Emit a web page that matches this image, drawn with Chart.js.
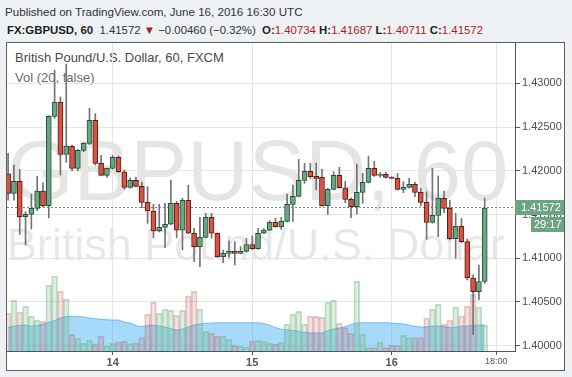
<!DOCTYPE html>
<html>
<head>
<meta charset="utf-8">
<script src="https://cdn.jsdelivr.net/npm/chart.js@4.4.0/dist/chart.umd.min.js"></script>
<style>
  body { margin: 0; background: #eff2f5; font-family: "Liberation Sans", Arial, sans-serif; }
  #wrap { position: relative; width: 572px; height: 377px; overflow: hidden; }
  #frame { position: absolute; left: 6px; top: 42px; width: 559px; height: 329px; box-sizing: border-box;
           border: 1px solid #5d5d5d; background: #fff; }
  .wm { position: absolute; white-space: nowrap; line-height: 1; color: rgba(0, 0, 0, 0.1); }
  #wm1 { left: 7.5px; top: 128px; font-size: 85px; }
  #wm2 { left: 6.7px; top: 222px; font-size: 45px; }
  .txt { position: absolute; white-space: nowrap; }
  #pub { left: 5px; top: 4.7px; font-size: 11.6px; line-height: 14px; color: #333; }
  #quote { left: 7px; top: 23px; font-size: 11.4px; line-height: 14px; color: #333; }
  #quote b { color: #222; }
  #quote .dn { color: #b31b1b; }
  #title { left: 15px; top: 50px; font-size: 13px; line-height: 15px; color: #4a4a4a; }
  #volname { left: 15px; top: 70px; font-size: 13px; line-height: 15px; color: #6a6a6a; }
  #c { position: absolute; left: 0; top: 0; }
</style>
</head>
<body>
<div id="wrap">
  <div class="txt" id="pub">Published on TradingView.com, June 16, 2016 16:30 UTC</div>
  <div class="txt" id="quote"><b>FX:GBPUSD, 60</b>&nbsp; 1.41572 <span class="dn">▼</span> −0.00460 (−0.32%)&nbsp; <b>O:</b><span class="dn">1.40734</span> <b>H:</b><span class="dn">1.41687</span> <b>L:</b><span class="dn">1.40711</span> <b>C:</b><span class="dn">1.41572</span></div>
  <div id="frame"></div>
  <div class="wm" id="wm1">GBPUSD, 60</div>
  <div class="wm" id="wm2">British Pound/U.S. Dollar</div>
  <div class="txt" id="title">British Pound/U.S. Dollar, 60, FXCM</div>
  <div class="txt" id="volname">Vol (20, false)</div>
  <canvas id="c" width="572" height="377"></canvas>
</div>
<script>
// hourly candles, first one is 13 Jun 06:00; x is hours counted from 14 Jun 00:00
var firstHour = -18;

var opens = [1.41966, 1.41742, 1.41879, 1.41474, 1.41502, 1.41570, 1.41768, 1.41600, 1.42622, 1.42785,
  1.42188, 1.42283, 1.42028, 1.42233, 1.42314, 1.42576, 1.42085, 1.41948, 1.42028, 1.42154,
  1.41989, 1.41810, 1.41890, 1.41822, 1.41639, 1.41540, 1.41311, 1.41353, 1.41388, 1.41628,
  1.41322, 1.41662, 1.41285, 1.41132, 1.41239, 1.41468, 1.41285, 1.41017, 1.41056, 1.41079,
  1.41056, 1.41079, 1.41155, 1.41109, 1.41285, 1.41322, 1.41410, 1.41360, 1.41422, 1.41616,
  1.41708, 1.41890, 1.41993, 1.41936, 1.41925, 1.41600, 1.41788, 1.41948, 1.41806, 1.41673,
  1.41589, 1.41753, 1.41868, 1.42028, 1.41948, 1.41959, 1.41925, 1.41913, 1.41788, 1.41810,
  1.41845, 1.41753, 1.41639, 1.41410, 1.41490, 1.41685, 1.41570, 1.41223, 1.41365, 1.41189,
  1.40774, 1.40617, 1.40734];
var highs = [1.42199, 1.42065, 1.42016, 1.41532, 1.41734, 1.41940, 1.41863, 1.42630, 1.43150, 1.42843,
  1.43220, 1.42294, 1.42245, 1.42320, 1.42713, 1.42652, 1.42176, 1.42030, 1.42176, 1.42170,
  1.42010, 1.41917, 1.41928, 1.41870, 1.41817, 1.41616, 1.41616, 1.41628, 1.41894, 1.41650,
  1.41685, 1.41837, 1.41342, 1.41468, 1.41513, 1.41513, 1.41290, 1.41094, 1.41200, 1.41189,
  1.41132, 1.41228, 1.41254, 1.41342, 1.41340, 1.41430, 1.41456, 1.41468, 1.41734, 1.41837,
  1.42131, 1.42085, 1.42085, 1.42088, 1.42016, 1.41800, 1.41989, 1.42039, 1.41879, 1.41690,
  1.42077, 1.41971, 1.42168, 1.42108, 1.41982, 1.41982, 1.41935, 1.41971, 1.41875, 1.41913,
  1.41870, 1.41800, 1.41760, 1.42028, 1.41940, 1.41768, 1.41665, 1.41513, 1.41456, 1.41220,
  1.40810, 1.40922, 1.41687];
var lows = [1.41665, 1.41665, 1.41273, 1.41151, 1.41334, 1.41543, 1.41590, 1.41463, 1.42600, 1.41951,
  1.42096, 1.41997, 1.41997, 1.42218, 1.42300, 1.42065, 1.41940, 1.41925, 1.42020, 1.41980,
  1.41788, 1.41800, 1.41815, 1.41577, 1.41399, 1.41234, 1.41300, 1.41120, 1.41380, 1.41234,
  1.41094, 1.41280, 1.40960, 1.40903, 1.41230, 1.41228, 1.41010, 1.40949, 1.41010, 1.40922,
  1.41050, 1.41070, 1.41100, 1.41100, 1.41280, 1.41315, 1.41355, 1.41330, 1.41415, 1.41420,
  1.41700, 1.41856, 1.41913, 1.41780, 1.41595, 1.41502, 1.41780, 1.41800, 1.41634, 1.41463,
  1.41505, 1.41628, 1.41860, 1.41935, 1.41925, 1.41915, 1.41905, 1.41780, 1.41749, 1.41800,
  1.41703, 1.41600, 1.41216, 1.41400, 1.41246, 1.41520, 1.41210, 1.40999, 1.41180, 1.40751,
  1.40130, 1.40522, 1.40711];
var closes = [1.41742, 1.41879, 1.41474, 1.41502, 1.41570, 1.41768, 1.41600, 1.42622, 1.42785, 1.42188,
  1.42283, 1.42028, 1.42233, 1.42314, 1.42576, 1.42085, 1.41948, 1.42028, 1.42154, 1.41989,
  1.41810, 1.41890, 1.41822, 1.41639, 1.41540, 1.41311, 1.41353, 1.41388, 1.41628, 1.41322,
  1.41662, 1.41285, 1.41132, 1.41239, 1.41468, 1.41285, 1.41017, 1.41056, 1.41079, 1.41056,
  1.41079, 1.41155, 1.41109, 1.41285, 1.41322, 1.41410, 1.41360, 1.41422, 1.41616, 1.41708,
  1.41890, 1.41993, 1.41932, 1.41913, 1.41600, 1.41788, 1.41948, 1.41806, 1.41673, 1.41589,
  1.41753, 1.41868, 1.42028, 1.41948, 1.41959, 1.41925, 1.41913, 1.41788, 1.41810, 1.41845,
  1.41753, 1.41639, 1.41410, 1.41490, 1.41685, 1.41570, 1.41223, 1.41365, 1.41189, 1.40774,
  1.40617, 1.40734, 1.41572];

// volume and its 20 period average (arbitrary units)
var volumes = [37.7, 50.7, 38.7, 44.7, 34.7, 30.7, 29.7, 65.7, 75, 59.7,
  51.7, 16.7, 12.7, 7.7, 10.7, 6.7, 14.7, 5, 7.7, 9,
  9.7, 7.3, 8, 13.3, 36.7, 48.7, 37.7, 41.7, 40.7, 35.7,
  40.7, 55, 59.7, 41.7, 19.7, 17.7, 14.7, 14.7, 11.7, 5.7,
  4.7, 3.7, 9.7, 10.7, 9.7, 7.7, 6.7, 8.7, 26.7, 36.7,
  39.7, 26.7, 34.7, 34.7, 33.7, 48.7, 50.7, 27.7, 23.3, 17.7,
  69.7, 16.7, 3.3, 3.3, 9, 3.3, 5.7, 5.7, 15.7, 13.3,
  13.3, 13.3, 33, 41.7, 46.7, 26.7, 31, 44, 35, 44.7,
  56.7, 44, 26];
var volumeMA = [23.5, 25, 25.7, 26, 25, 25.5, 26.7, 28.5, 30.5, 33,
  34.5, 34.7, 34.5, 34, 33, 32.3, 31.7, 31.3, 31, 31,
  29, 28, 25.5, 24.5, 25.5, 25.7, 25.2, 24, 22.5, 21,
  22, 24, 26, 27, 27.7, 28, 28.3, 28.3, 28.3, 28.3,
  28.3, 28.3, 28.3, 28.3, 27.5, 25.8, 23.5, 21.8, 21.2, 20.5,
  19.8, 18.5, 18, 18, 18, 20.5, 22, 23, 24.5, 26.5,
  28, 28.3, 28.3, 28.3, 28.3, 28.3, 28, 27.5, 27, 25.8,
  24.7, 24, 24.3, 24.8, 25, 24.3, 23.3, 23.8, 24.8, 25,
  25.5, 26, 26];

var xTickHours = [0, 24, 48, 66];
var xTickLabels = ['14', '15', '16', '18:00'];
var priceTicks = [1.400, 1.405, 1.410, 1.415, 1.420, 1.425, 1.430];
var lastClose = 1.41572;
var countdown = '29:17';

var bodyData = [], wickData = [], volData = [], maData = [];
var bodyColors = [], bodyBorders = [], volColors = [], volBorders = [];
for (var i = 0; i < opens.length; i++) {
  var h = firstHour + i;
  var up = closes[i] >= opens[i];
  bodyData.push({x: h, y: [opens[i], closes[i]]});
  wickData.push({x: h, y: [lows[i], highs[i]]});
  volData.push({x: h, y: volumes[i]});
  maData.push({x: h, y: volumeMA[i]});
  bodyColors.push(up ? '#6ba583' : '#d75442');
  bodyBorders.push(up ? '#225437' : '#5b1a13');
  volColors.push(up ? 'rgba(107,175,120,0.22)' : 'rgba(190,90,90,0.18)');
  volBorders.push(up ? 'rgba(110,185,125,0.45)' : 'rgba(190,100,100,0.35)');
}

// dashed last price line and the green price / countdown labels on the axis
var lastPricePlugin = {
  id: 'lastPrice',
  beforeDatasetsDraw: function (chart) {
    var c = chart.ctx, area = chart.chartArea;
    var py = Math.round(chart.scales.y.getPixelForValue(lastClose)) - 0.5;
    c.save();
    c.strokeStyle = '#5b9a78';
    c.lineWidth = 1;
    c.setLineDash([2, 2]);
    c.beginPath();
    c.moveTo(area.left, py);
    c.lineTo(area.right, py);
    c.stroke();
    c.restore();
  },
  afterDraw: function (chart) {
    var c = chart.ctx, area = chart.chartArea;
    var py = Math.round(chart.scales.y.getPixelForValue(lastClose));
    c.save();
    c.fillStyle = '#6ba583';
    c.fillRect(area.right, py - 8, 49, 15);
    c.fillRect(area.right + 16, py + 9, 33, 15);
    c.fillStyle = '#fff';
    c.font = '11px "Liberation Sans", Arial, sans-serif';
    c.textBaseline = 'middle';
    c.fillText(lastClose.toFixed(5), area.right + 6, py);
    c.fillText(countdown, area.right + 19, py + 17);
    c.restore();
  }
};

Chart.defaults.font.family = '"Liberation Sans", Arial, sans-serif';

var ctx = document.getElementById('c');
var chart = new Chart(ctx, {
  type: 'bar',
  data: {
    datasets: [
      {label: 'Body', data: bodyData, backgroundColor: bodyColors, borderColor: bodyBorders,
        borderWidth: 1, borderSkipped: false, barThickness: 5, grouped: false, yAxisID: 'y'},
      {label: 'Wick', data: wickData, backgroundColor: '#737375', barThickness: 1, grouped: false, yAxisID: 'y'},
      {label: 'Volume', data: volData, backgroundColor: volColors, borderColor: volBorders, borderWidth: 1,
        barPercentage: 1, categoryPercentage: 1, grouped: false, yAxisID: 'vol'},
      {type: 'line', label: 'Vol MA', data: maData, yAxisID: 'vol', fill: 'origin',
        backgroundColor: 'rgba(60,170,245,0.45)', borderColor: 'rgba(40,150,240,0.55)', borderWidth: 1,
        pointRadius: 0, tension: 0.3}
    ]
  },
  options: {
    responsive: false,
    animation: false,
    devicePixelRatio: 1,
    layout: {padding: {left: 7, top: 43, right: 8, bottom: 7}},
    plugins: {legend: {display: false}, tooltip: {enabled: false}},
    scales: {
      x: {
        type: 'linear', min: -18.19, max: 69.21, offset: false,
        grid: {color: '#e5e5e5', tickColor: '#555', tickLength: 4, offset: false},
        border: {color: '#555'},
        afterBuildTicks: function (scale) {
          scale.ticks = xTickHours.map(function (v) { return {value: v}; });
        },
        afterFit: function (scale) { scale.height = 19; },
        ticks: {
          maxRotation: 0, autoSkip: false, padding: 1, color: '#555',
          font: function (c) {
            if (c.tick && c.tick.value === 66) return {size: 9};
            return {size: 11, weight: 'bold'};
          },
          callback: function (v) {
            var k = xTickHours.indexOf(v);
            return k >= 0 ? xTickLabels[k] : '';
          }
        }
      },
      y: {
        position: 'right', min: 1.39939, max: 1.43461,
        grid: {color: '#e5e5e5', tickColor: '#555', tickLength: 5},
        border: {color: '#555'},
        afterBuildTicks: function (scale) {
          scale.ticks = priceTicks.map(function (v) { return {value: v}; });
        },
        afterFit: function (scale) { scale.width = 49; },
        ticks: {
          padding: 2, color: '#4d4d4d', font: {size: 11},
          callback: function (v) { return v.toFixed(5); }
        }
      },
      vol: {display: false, min: 0, max: 308}
    }
  },
  plugins: [lastPricePlugin]
});
</script>
</body>
</html>
